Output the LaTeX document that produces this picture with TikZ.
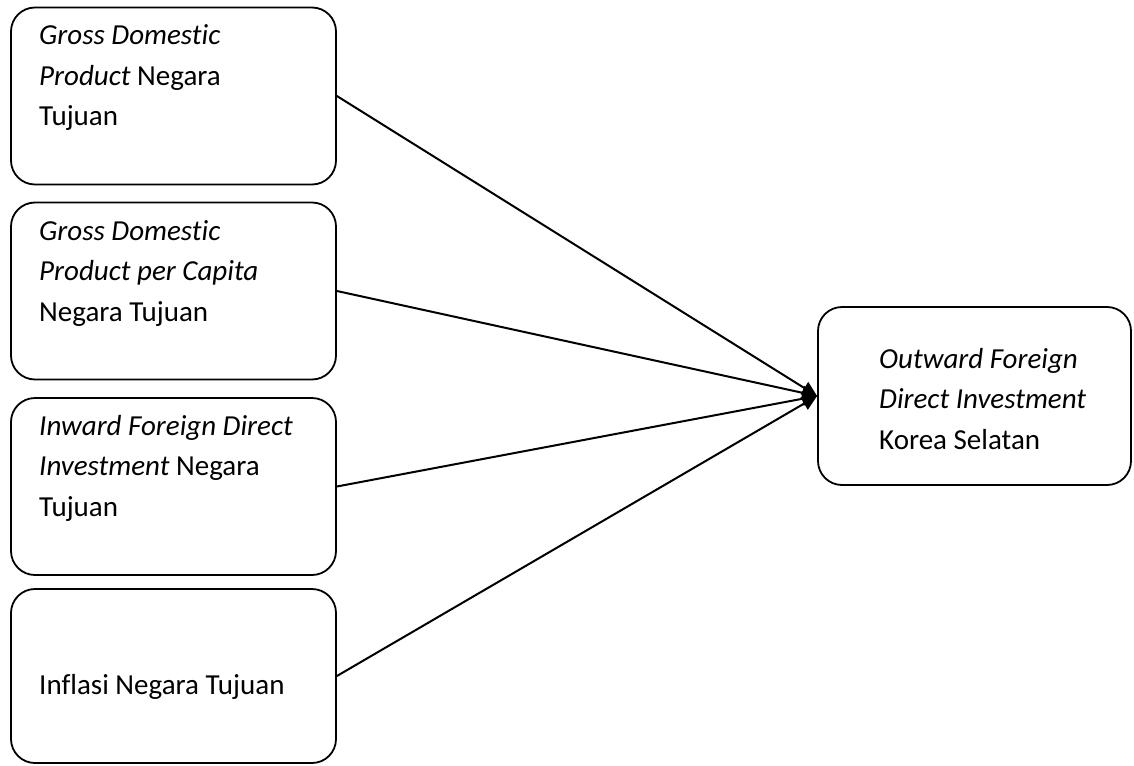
\documentclass[tikz,border=0pt]{standalone}
\usepackage{fontspec}
\setmainfont{Carlito}[Ligatures=NoCommon]
\usetikzlibrary{arrows.meta}
\tikzset{
  box/.style={draw, line width=1.8pt, rounded corners=24pt, minimum width=325pt, minimum height=177pt, inner sep=0pt},
  rbox/.style={draw, line width=1.8pt, rounded corners=24pt, minimum width=313pt, minimum height=178pt, inner sep=0pt},
  txt/.style={anchor=base west, inner sep=0pt, font=\fontsize{29}{40.5}\selectfont},
  conn/.style={line width=2pt, -{Triangle[length=15pt,width=14pt]}}
}
\begin{document}
\begin{tikzpicture}[x=1pt,y=-1pt]
\useasboundingbox (0,0) rectangle (1134,765);
\node[box] (b1) at (173.5,96) {};
\node[box] (b2) at (173.5,291) {};
\node[box] (b3) at (173.5,486.5) {};
\node[box, minimum height=174pt] (b4) at (173.5,676) {};
\node[rbox] (r) at (974.5,396) {};
\node[txt] (t1) at (39,45) {\parbox[t]{290pt}{\raggedright\textit{Gross Domestic}\\\textit{Product} Negara\\Tujuan}};
\node[txt] (t2) at (39,240) {\parbox[t]{290pt}{\raggedright\textit{Gross Domestic}\\\textit{Product per Capita}\\Negara Tujuan}};
\node[txt] (t3) at (39,435) {\parbox[t]{290pt}{\raggedright\textit{Inward Foreign Direct}\\\textit{Investment} Negara\\Tujuan}};
\node[txt] (t4) at (39,694) {Inflasi Negara Tujuan};
\node[txt] (t5) at (879,368) {\parbox[t]{240pt}{\raggedright\textit{Outward Foreign}\\\textit{Direct Investment}\\Korea Selatan}};
\draw[conn] (b1.east) -- (r.west);
\draw[conn] (b2.east) -- (r.west);
\draw[conn] (b3.east) -- (r.west);
\draw[conn] (b4.east) -- (r.west);
\end{tikzpicture}
\end{document}
